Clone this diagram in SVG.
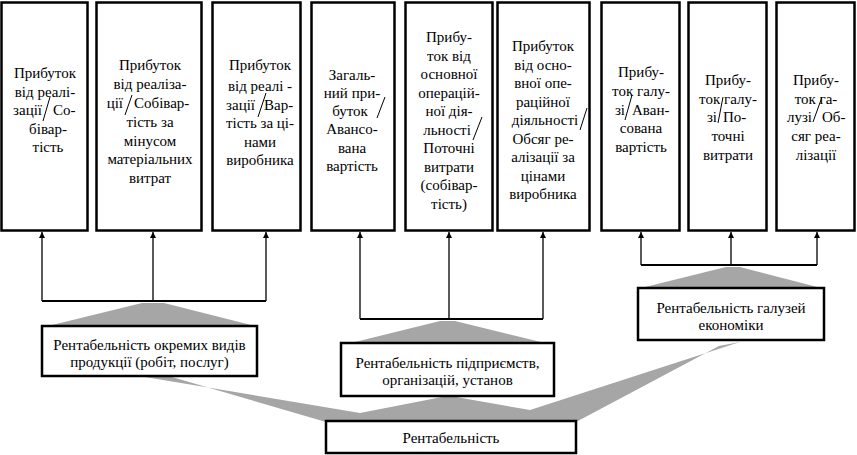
<svg xmlns="http://www.w3.org/2000/svg" width="857" height="455" viewBox="0 0 857 455">
<style>
.box{fill:#fff;stroke:#000;stroke-width:2.5}
text{font-family:"Liberation Serif","Times New Roman","DejaVu Serif",serif;font-size:15px;fill:#000}
.t{text-anchor:middle}
.e{text-anchor:end}
.sl{stroke:#000;stroke-width:1}
.ln{stroke:#000;stroke-width:1.3;fill:none}
.hl{stroke:#000;stroke-width:2;fill:none}
.gray{fill:#a6a6a6}
</style>
<defs>
<marker id="ah" viewBox="0 0 10 10" refX="10" refY="5" markerWidth="6" markerHeight="6" orient="auto" markerUnits="userSpaceOnUse">
<path d="M0,0 L10,5 L0,10 z" fill="#000"/>
</marker>
</defs>
<g id="shapes">
<polygon class="gray" points="142,303 164,303 259,327 44,327"/>
<polygon class="gray" points="440,321 455,321 549,344 347,344"/>
<polygon class="gray" points="726,267 740,267 825,289 637,289"/>
<polygon class="gray" points="145,377 172,377 326,422 576,422 719,346 740,342 530,410 456,397 442,397 360,413"/>
</g>
<g id="connectors">
<path class="hl" d="M42,301 H266"/>
<path class="ln" d="M42,301 V232" marker-end="url(#ah)"/>
<path class="ln" d="M153,301 V232" marker-end="url(#ah)"/>
<path class="ln" d="M266,301 V232" marker-end="url(#ah)"/>
<path class="hl" d="M360,319 H543"/>
<path class="ln" d="M360,319 V232" marker-end="url(#ah)"/>
<path class="ln" d="M449,319 V232" marker-end="url(#ah)"/>
<path class="ln" d="M543,319 V232" marker-end="url(#ah)"/>
<path class="hl" d="M641,265 H817"/>
<path class="ln" d="M641,265 V232" marker-end="url(#ah)"/>
<path class="ln" d="M731,265 V232" marker-end="url(#ah)"/>
<path class="ln" d="M817,265 V232" marker-end="url(#ah)"/>
</g>
<g id="n1">
<rect class="box" x="1.5" y="2.5" width="86" height="228"/>
<text class="t" x="45" y="78">Прибуток</text>
<text class="t" x="45" y="96.5">від реалі-</text>
<text class="e" x="42" y="115">зації</text>
<text x="53" y="115">Со-</text>
<text class="t" x="48" y="133.5">бівар-</text>
<text class="t" x="48" y="152">тість</text>
<line class="sl" x1="50" y1="97" x2="43" y2="121"/>
</g>
<g id="n2">
<rect class="box" x="96.5" y="2.5" width="105" height="228"/>
<text class="t" x="150" y="70">Прибуток</text>
<text class="t" x="150" y="89">від реаліза-</text>
<text class="e" x="123" y="108">ції</text>
<text x="134" y="108">Собівар-</text>
<text class="t" x="150" y="127">тість за</text>
<text class="t" x="150" y="145.5">мінусом</text>
<text class="t" x="150" y="164">матеріальних</text>
<text class="t" x="150" y="183">витрат</text>
<line class="sl" x1="132" y1="95" x2="125" y2="115"/>
</g>
<g id="n3">
<rect class="box" x="212.5" y="2.5" width="88" height="228"/>
<text class="t" x="260" y="70">Прибуток</text>
<text class="t" x="260" y="91">від реалі -</text>
<text class="e" x="255" y="110">зації</text>
<text x="264" y="110">Вар-</text>
<text class="t" x="260" y="128">тість за ці-</text>
<text class="t" x="260" y="147">нами</text>
<text class="t" x="260" y="165">виробника</text>
<line class="sl" x1="266" y1="93" x2="258" y2="117"/>
</g>
<g id="n4">
<rect class="box" x="311.5" y="2.5" width="83" height="228"/>
<text class="t" x="352" y="80">Загаль-</text>
<text class="t" x="352" y="98">ний при-</text>
<text class="t" x="350" y="116">буток</text>
<text class="t" x="352" y="134">Авансо-</text>
<text class="t" x="352" y="152.5">вана</text>
<text class="t" x="352" y="170.5">вартість</text>
<line class="sl" x1="385" y1="97" x2="377" y2="118"/>
</g>
<g id="n5">
<rect class="box" x="405.5" y="2.5" width="87" height="228"/>
<text class="t" x="449" y="42">Прибу-</text>
<text class="t" x="449" y="60.5">ток від</text>
<text class="t" x="449" y="79">основної</text>
<text class="t" x="449" y="97.5">операцій-</text>
<text class="t" x="449" y="116">ної дія-</text>
<text class="t" x="447" y="134.5">льності</text>
<text class="t" x="449" y="153">Поточні</text>
<text class="t" x="449" y="171.5">витрати</text>
<text class="t" x="449" y="190">(собівар-</text>
<text class="t" x="449" y="208.5">тість)</text>
<line class="sl" x1="482" y1="117" x2="473" y2="140"/>
</g>
<g id="n6">
<rect class="box" x="497.5" y="2.5" width="92" height="228"/>
<text class="t" x="543" y="51">Прибуток</text>
<text class="t" x="543" y="69.5">від осно-</text>
<text class="t" x="543" y="88">вної опе-</text>
<text class="t" x="543" y="106.5">раційної</text>
<text class="t" x="545" y="125">діяльності</text>
<text class="t" x="543" y="143.5">Обсяг ре-</text>
<text class="t" x="543" y="162">алізації за</text>
<text class="t" x="543" y="180.5">цінами</text>
<text class="t" x="543" y="199">виробника</text>
<line class="sl" x1="587" y1="108" x2="580" y2="130"/>
</g>
<g id="n7">
<rect class="box" x="601.5" y="2.5" width="78" height="228"/>
<text class="t" x="641" y="77">Прибу-</text>
<text class="t" x="641" y="96">ток галу-</text>
<text class="e" x="625" y="114.5">зі</text>
<text x="632" y="114.5">Аван-</text>
<text class="t" x="641" y="133">сована</text>
<text class="t" x="641" y="151.5">вартість</text>
<line class="sl" x1="632" y1="95" x2="625" y2="120"/>
</g>
<g id="n8">
<rect class="box" x="688.5" y="2.5" width="78" height="228"/>
<text class="t" x="728" y="85">Прибу-</text>
<text class="t" x="728" y="103.5">ток галу-</text>
<text class="e" x="717" y="122">зі</text>
<text x="723" y="122">По-</text>
<text class="t" x="728" y="141">точні</text>
<text class="t" x="728" y="160">витрати</text>
<line class="sl" x1="723" y1="97" x2="718" y2="123"/>
</g>
<g id="n9">
<rect class="box" x="776.5" y="2.5" width="78" height="228"/>
<text class="t" x="816" y="85">Прибу-</text>
<text class="t" x="816" y="103.5">ток га-</text>
<text class="e" x="812" y="122">лузі</text>
<text x="822" y="122">Об-</text>
<text class="t" x="816" y="141">сяг реа-</text>
<text class="t" x="816" y="160">лізації</text>
<line class="sl" x1="822" y1="97" x2="813" y2="122"/>
</g>
<g id="nA">
<rect class="box" x="42" y="326" width="215" height="50"/>
<text class="t" x="149.5" y="350">Рентабельність окремих видів</text>
<text class="t" x="149.5" y="367">продукції (робіт, послуг)</text>
</g>
<g id="nB">
<rect class="box" x="341" y="343" width="213" height="53"/>
<text class="t" x="447.5" y="368">Рентабельність підприємств,</text>
<text class="t" x="447.5" y="385">організацій, установ</text>
</g>
<g id="nC">
<rect class="box" x="638" y="288" width="186" height="52"/>
<text class="t" x="731" y="313">Рентабельність галузей</text>
<text class="t" x="731" y="330">економіки</text>
</g>
<g id="nD">
<rect class="box" x="326" y="421" width="250" height="32"/>
<text class="t" x="451" y="443">Рентабельність</text>
</g>
</svg>
